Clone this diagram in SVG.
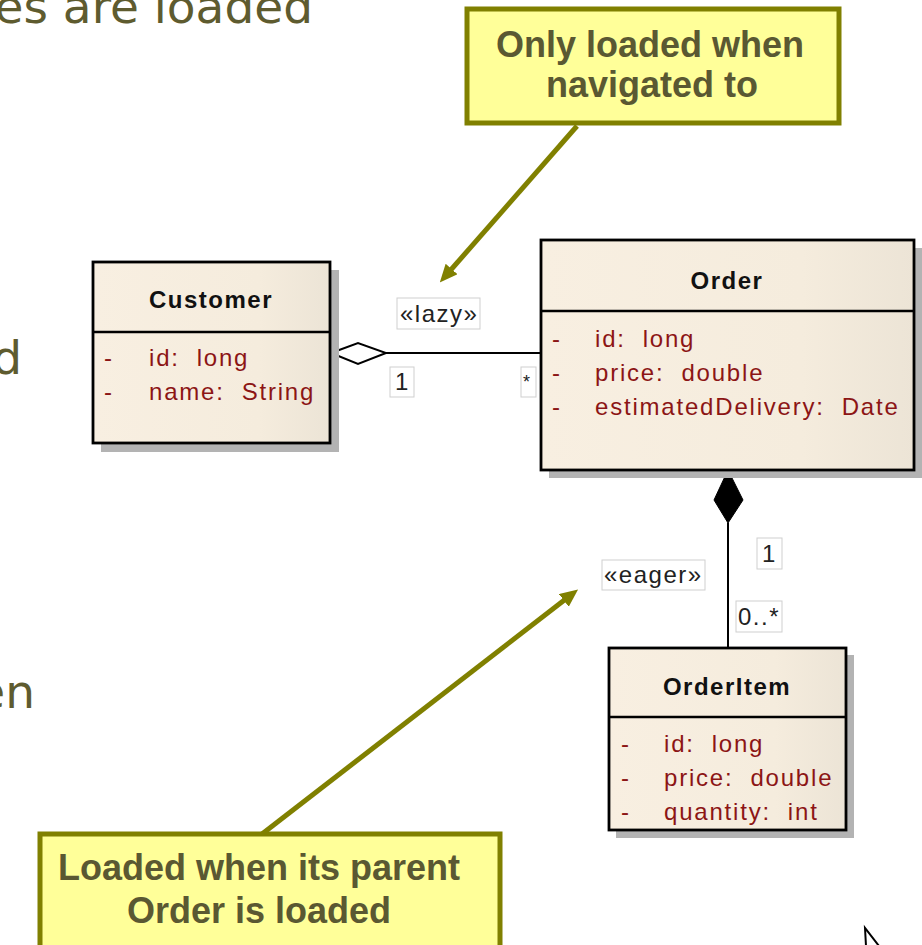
<svg xmlns="http://www.w3.org/2000/svg" width="922" height="945" viewBox="0 0 922 945">
<defs>
<linearGradient id="cream" x1="0" y1="0" x2="1" y2="0">
<stop offset="0" stop-color="#f8efe1"/>
<stop offset="0.7" stop-color="#f5ecdd"/>
<stop offset="1" stop-color="#ece4d6"/>
</linearGradient>
<marker id="olive-arrow" markerUnits="userSpaceOnUse" viewBox="0 0 18 16" markerWidth="18" markerHeight="16" refX="4" refY="8" orient="auto">
<path d="M0,0 L18,8 L0,16 z" fill="#808000"/>
</marker>
</defs>
<style>
.slide{font-family:"DejaVu Sans",Verdana,sans-serif;font-size:47px;fill:#5e5b2f}
.shadow{fill:#b3b3b3}
.box{fill:url(#cream);stroke:#000;stroke-width:2.8}
.div{stroke:#000;stroke-width:2.5}
.title{font-family:"Liberation Sans",Arial,sans-serif;font-weight:bold;font-size:24px;fill:#111;text-anchor:middle;letter-spacing:1.5px}
.attr{font-family:"Liberation Sans",Arial,sans-serif;font-size:24px;fill:#8c1515;letter-spacing:1.8px;white-space:pre}
.lbl{fill:#fff;stroke:#cfcfcf;stroke-width:1}
.lt{font-family:"Liberation Sans",Arial,sans-serif;font-size:24px;fill:#222;letter-spacing:1.5px}
.conn{stroke:#000;stroke-width:2;fill:none}
.callout{fill:#ffff99;stroke:#808000;stroke-width:5}
.ct{font-family:"Liberation Sans",Arial,sans-serif;font-weight:bold;font-size:36px;fill:#5a5832;text-anchor:middle}
.carrow{stroke:#808000;stroke-width:5;fill:none;marker-end:url(#olive-arrow)}
</style>
<rect width="922" height="945" fill="#fff"/>

<g id="slide-text">
<text class="slide" x="313" y="23" text-anchor="end">es are loaded</text>
<text class="slide" x="22" y="374" text-anchor="end">d</text>
<text class="slide" x="35" y="708" text-anchor="end">en</text>
</g>

<g id="connectors">
<line class="conn" x1="386" y1="353" x2="541" y2="353"/>
<path d="M331,353 L358,343 L386,353 L358,364 z" fill="#fff" stroke="#000" stroke-width="2"/>
<line class="conn" x1="728" y1="523" x2="728" y2="648"/>
<path d="M728,470 L743,500 L728,523 L714,500 z" fill="#000" stroke="#000" stroke-width="1"/>
<rect class="lbl" x="397" y="298" width="83" height="31"/>
<text class="lt" x="400" y="322">«lazy»</text>
<rect class="lbl" x="390" y="367" width="24" height="30"/>
<text class="lt" x="395" y="390">1</text>
<rect class="lbl" x="521" y="367" width="15" height="30"/>
<text class="lt" x="523" y="388" style="font-size:18px">*</text>
<rect class="lbl" x="757" y="538" width="25" height="31"/>
<text class="lt" x="762" y="562">1</text>
<rect class="lbl" x="736" y="601" width="46" height="31"/>
<text class="lt" x="738" y="625">0..*</text>
<rect class="lbl" x="602" y="560" width="103" height="30"/>
<text class="lt" x="604" y="583">«eager»</text>
</g>

<g id="customer">
<rect class="shadow" x="101" y="270" width="238" height="182"/>
<rect class="box" x="93" y="262" width="237" height="181"/>
<line class="div" x1="93" y1="332" x2="330" y2="332"/>
<text class="title" x="211" y="308">Customer</text>
<text class="attr" x="104" y="366">-</text>
<text class="attr" x="149" y="366" xml:space="preserve">id:  long</text>
<text class="attr" x="104" y="400">-</text>
<text class="attr" x="149" y="400" xml:space="preserve">name:  String</text>
</g>

<g id="order">
<rect class="shadow" x="549" y="248" width="373" height="230"/>
<rect class="box" x="541" y="240" width="373" height="230"/>
<line class="div" x1="541" y1="311" x2="914" y2="311"/>
<text class="title" x="727" y="289">Order</text>
<text class="attr" x="552" y="347">-</text>
<text class="attr" x="595" y="347" xml:space="preserve">id:  long</text>
<text class="attr" x="552" y="381">-</text>
<text class="attr" x="595" y="381" xml:space="preserve">price:  double</text>
<text class="attr" x="552" y="415">-</text>
<text class="attr" x="595" y="415" xml:space="preserve">estimatedDelivery:  Date</text>
</g>

<g id="orderitem">
<rect class="shadow" x="616" y="655" width="238" height="183"/>
<rect class="box" x="609" y="648" width="237" height="182"/>
<line class="div" x1="609" y1="717" x2="846" y2="717"/>
<text class="title" x="727" y="695">OrderItem</text>
<text class="attr" x="621" y="752">-</text>
<text class="attr" x="664" y="752" xml:space="preserve">id:  long</text>
<text class="attr" x="621" y="786">-</text>
<text class="attr" x="664" y="786" xml:space="preserve">price:  double</text>
<text class="attr" x="621" y="820">-</text>
<text class="attr" x="664" y="820" xml:space="preserve">quantity:  int</text>
</g>

<g id="note-lazy">
<line class="carrow" x1="577" y1="126" x2="449" y2="272"/>
<rect class="callout" x="467" y="9" width="372" height="114"/>
<text class="ct" x="650" y="57">Only loaded when</text>
<text class="ct" x="652" y="97">navigated to</text>
</g>

<g id="note-eager">
<line class="carrow" x1="262" y1="834" x2="567" y2="598"/>
<rect class="callout" x="40" y="834" width="460" height="120"/>
<text class="ct" x="259" y="880">Loaded when its parent</text>
<text class="ct" x="259" y="923">Order is loaded</text>
</g>

<g id="cursor">
<path d="M865,928 L866,946 L879,946 z" fill="#fff" stroke="#000" stroke-width="2"/>
</g>
</svg>
